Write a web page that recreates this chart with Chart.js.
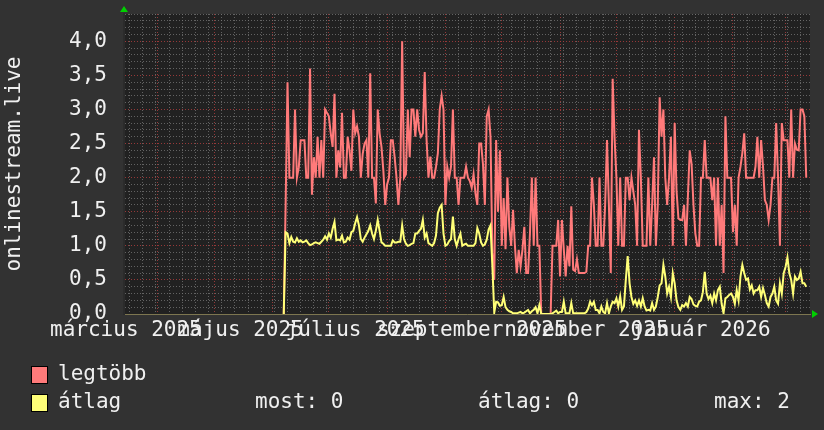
<!DOCTYPE html>
<html>
<head>
<meta charset="utf-8">
<script src="https://cdn.jsdelivr.net/npm/chart.js@4"></script>
<style>
  html, body { margin: 0; padding: 0; background: #323232; }
  canvas { display: block; }
</style>
</head>
<body>
<canvas id="chart" width="824" height="430"></canvas>
<script>
// napok 2025. március 14-től számolva
var firstDay = 85;

// legtöbb (napi maximum), 85. naptól
var legtobb = [
  0, 1.6, 3.4, 2.0, 2.0, 2.0, 3.0, 2.0, 2.15, 2.55,
  2.55, 2.55, 2.0, 2.0, 3.6, 1.75, 2.3, 2.0, 2.6, 2.0,
  2.55, 2.0, 3.0, 2.95, 2.9, 2.65, 2.45, 3.23, 2.0, 2.4,
  2.15, 2.95, 2.0, 2.0, 2.6, 2.4, 2.1, 3.0, 2.65, 2.75,
  2.6, 2.0, 2.35, 2.5, 2.55, 2.0, 3.53, 2.0, 2.0, 1.62,
  3.0, 2.65, 2.45, 2.1, 1.6, 1.9, 2.0, 2.55, 2.55, 2.3,
  2.0, 1.6, 2.0, 4.0, 2.0, 2.05, 3.0, 2.3, 3.0, 3.0,
  2.6, 3.0, 2.7, 2.6, 2.65, 3.55, 2.55, 2.0, 2.31, 2.0,
  2.0, 2.16, 2.36, 3.0, 3.2, 3.0, 1.6, 2.16, 2.0, 2.16,
  3.0, 2.0, 2.0, 1.6, 2.0, 2.0, 2.0, 2.16, 2.0, 1.95,
  1.85, 2.05, 1.77, 1.6, 2.5, 2.5, 2.2, 1.6, 2.9, 3.0,
  2.6, 0.9, 0.5, 2.55, 1.5, 2.4, 1.0, 1.7, 0.95, 2.0,
  1.28, 1.0, 1.53, 1.0, 0.6, 0.94, 0.7, 0.94, 1.28, 0.6,
  0.6, 1.18, 2.0, 1.0, 2.0, 1.0, 1.0, 0, 0, 0,
  0, 0, 0, 1.0, 1.0, 1.0, 1.38, 0.55, 1.38, 0.95,
  0.55, 1.0, 0.7, 1.58, 0.65, 0.63, 0.8, 0.6, 0.6, 0.6,
  0.6, 0.62, 1.0, 1.0, 2.0, 1.6, 1.0, 1.0, 2.0, 1.0,
  1.0, 1.6, 2.55, 1.6, 0.6, 3.45, 2.6, 2.0, 1.0, 2.0,
  1.0, 1.0, 2.0, 2.0, 1.67, 2.0, 1.8, 1.6, 1.0, 2.7,
  2.0, 1.0, 1.0, 1.0, 2.0, 1.0, 1.6, 2.3, 1.0, 1.6,
  3.18, 2.6, 3.0, 2.0, 1.6, 2.0, 2.6, 1.0, 2.8, 1.8,
  1.4, 1.38, 1.38, 1.6, 1.0, 1.7, 2.4, 2.2, 1.6, 1.18,
  1.0, 1.0, 2.0, 2.0, 2.55, 2.0, 2.0, 2.0, 1.67, 2.0,
  1.0, 2.0, 1.0, 1.6, 0.6, 2.9, 2.0, 2.0, 2.0, 1.2,
  1.6, 1.0, 2.0, 2.16, 2.36, 2.65, 2.0, 2.0, 2.0, 2.0,
  2.0, 2.16, 2.6, 2.0, 2.55, 2.16, 1.67, 1.6, 1.38, 1.6,
  2.0, 2.0, 2.8, 2.0, 1.0, 2.8, 2.55, 2.55, 2.55, 2.0,
  3.0, 2.0, 2.5, 2.41, 2.4, 3.0, 3.0, 2.9, 2.0
];

// átlag, 85. naptól
var atlag = [
  0, 1.2, 1.18, 1.04, 1.13, 1.06, 1.05, 1.11, 1.06, 1.08,
  1.05, 1.06, 1.08, 1.04, 1.01, 1.02, 1.04, 1.05, 1.04, 1.03,
  1.06, 1.09, 1.14, 1.09, 1.18, 1.12, 1.25, 1.35, 1.08, 1.09,
  1.08, 1.15, 1.05, 1.06, 1.12, 1.09, 1.2, 1.22, 1.33, 1.42,
  1.3, 1.1, 1.06, 1.12, 1.17, 1.22, 1.3, 1.18, 1.1, 1.22,
  1.38, 1.22, 1.05, 1.03, 1.0, 1.0, 1.0, 1.0, 1.08, 1.05,
  1.05, 1.06, 1.06, 1.3, 1.1, 1.03, 1.0, 1.01, 1.03, 1.04,
  1.18, 1.18, 1.22, 1.25, 1.38, 1.12, 1.18, 1.04, 1.02, 1.0,
  1.04, 1.15, 1.48, 1.56, 1.6, 1.18, 1.0, 1.02, 1.07, 1.1,
  1.43, 1.1, 1.0, 1.1, 1.18, 1.0, 1.02, 1.03, 1.0, 1.0,
  1.0, 1.0, 1.04, 1.26, 1.18, 1.05, 1.0, 1.02, 1.09, 1.24,
  1.3, 0.7, 0.02, 0.18, 0.17, 0.12, 0.13, 0.25, 0.1, 0.06,
  0.04, 0.03, 0.01, 0.01, 0.01, 0.02, 0.03, 0.01, 0.02, 0.04,
  0.06, 0.01, 0.04, 0.06, 0.1, 0.01, 0.13, 0, 0, 0,
  0, 0, 0, 0.01, 0.03, 0.05, 0.01, 0.03, 0.03, 0.18,
  0.01, 0.01, 0.01, 0.16, 0.01, 0.01, 0.01, 0.01, 0.01, 0.01,
  0.01, 0.03, 0.08, 0.18, 0.13, 0.18, 0.06, 0.06, 0.01, 0.11,
  0.03, 0.01, 0.16, 0.01, 0.11, 0.18, 0.16, 0.23, 0.11, 0.26,
  0.06, 0.11, 0.5, 0.85, 0.45, 0.25, 0.15, 0.2, 0.12, 0.2,
  0.11, 0.23, 0.11, 0.05, 0.06, 0.05, 0.16, 0.06, 0.11, 0.25,
  0.42, 0.45, 0.72, 0.55, 0.3, 0.4, 0.25, 0.6, 0.45, 0.2,
  0.1, 0.06, 0.13, 0.11, 0.16, 0.11, 0.25, 0.22, 0.14, 0.12,
  0.11, 0.18, 0.2, 0.32, 0.62, 0.3, 0.22, 0.27, 0.16, 0.3,
  0.2, 0.35, 0.4, 0.15, 0.01, 0.23, 0.25, 0.28, 0.3, 0.25,
  0.15, 0.35, 0.2, 0.55, 0.72, 0.6, 0.5, 0.52, 0.36, 0.42,
  0.3, 0.35, 0.35, 0.4, 0.25, 0.38, 0.28, 0.16, 0.11, 0.25,
  0.3, 0.4, 0.2, 0.15, 0.45, 0.3, 0.6, 0.69, 0.83, 0.6,
  0.5, 0.3, 0.55, 0.5, 0.52, 0.62, 0.45, 0.45, 0.4
];

var monthStarts = [18, 48, 79, 109, 140, 171, 201, 232, 262, 293, 324, 352];
var labelDays = [1, 62, 123, 185, 246, 307];
var monthLabels = ['március 2025', 'május 2025', 'július 2025', 'szeptember 2025', 'november 2025', 'január 2026'];
var firstMonday = 3;
var yLabels = ['0,0', '0,5', '1,0', '1,5', '2,0', '2,5', '3,0', '3,5', '4,0'];
var legendNames = ['legtöbb', 'átlag'];
var stats = ['most: 0', 'átlag: 0', 'max: 2'];

var FONT = '"DejaVu Sans Mono", "Liberation Mono", monospace';
var RED = '#ff7a7a';
var YELLOW = '#ffff78';
var MINOR = 'rgba(120,120,120,0.75)';
var MAJOR = 'rgba(170,60,60,0.85)';

function toPoints(arr) {
  return arr.map(function (v, i) { return { x: firstDay + i, y: v }; });
}

// x tengely: heti és havi rács + feliratok
var xKind = {};
var xTicks = [];
for (var d = firstMonday; d <= 365; d += 7) { xTicks.push(d); xKind[d] = 'week'; }
monthStarts.forEach(function (d) { if (xKind[d] !== 'week') xTicks.push(d); xKind[d] = 'month'; });
var xLabelAt = {};
labelDays.forEach(function (d, i) {
  xLabelAt[d] = monthLabels[i];
  if (xKind[d] === undefined) { xTicks.push(d); xKind[d] = 'label'; }
});
xTicks.sort(function (a, b) { return a - b; });

var yTicks = [];
for (var i = 0; i <= 44; i++) yTicks.push(i / 10);

function noPad(scale) {
  scale.paddingTop = 0;
  scale.paddingBottom = 0;
  scale.paddingLeft = 0;
  scale.paddingRight = 0;
}

var rrdLook = {
  id: 'rrdLook',
  beforeDraw: function (chart) {
    var c = chart.ctx, a = chart.chartArea;
    c.save();
    c.fillStyle = '#323232';
    c.fillRect(0, 0, chart.width, chart.height);
    c.fillStyle = '#212121';
    c.fillRect(a.left, a.top, a.right - a.left, a.bottom - a.top);
    c.restore();
  },
  afterDraw: function (chart) {
    var c = chart.ctx, a = chart.chartArea;
    c.save();
    // nyilak
    c.fillStyle = '#00d000';
    c.beginPath();
    c.moveTo(a.left - 4, a.top - 2); c.lineTo(a.left + 4, a.top - 2); c.lineTo(a.left, a.top - 8);
    c.fill();
    c.beginPath();
    c.moveTo(a.right + 2, a.bottom - 4); c.lineTo(a.right + 2, a.bottom + 4); c.lineTo(a.right + 8, a.bottom);
    c.fill();
    // jelmagyarázat
    var cols = [RED, YELLOW];
    c.font = '21px ' + FONT;
    c.textBaseline = 'middle';
    legendNames.forEach(function (name, k) {
      var y = 375 + k * 28;
      c.fillStyle = cols[k];
      c.fillRect(32, y - 8, 15, 16);
      c.strokeStyle = '#000';
      c.lineWidth = 1;
      c.strokeRect(31.5, y - 8.5, 16, 17);
      c.fillStyle = '#f0f0f0';
      c.fillText(name, 58, y);
    });
    var sx = [255, 478, 714];
    stats.forEach(function (s, k) { c.fillText(s, sx[k], 403); });
    c.restore();
  }
};

new Chart(document.getElementById('chart'), {
  type: 'line',
  data: {
    datasets: [
      { label: legendNames[1], data: toPoints(atlag), borderColor: YELLOW, borderWidth: 2, pointRadius: 0, tension: 0, order: 0 },
      { label: legendNames[0], data: toPoints(legtobb), borderColor: RED, borderWidth: 2, pointRadius: 0, tension: 0, order: 1 }
    ]
  },
  options: {
    responsive: false,
    animation: false,
    devicePixelRatio: 1,
    layout: { padding: { left: 0, right: 14, top: 14, bottom: 0 } },
    plugins: { legend: { display: false }, tooltip: { enabled: false } },
    scales: {
      x: {
        type: 'linear',
        min: 0,
        max: 365,
        afterBuildTicks: function (scale) {
          scale.ticks = xTicks.map(function (v) { return { value: v }; });
        },
        afterFit: function (scale) { scale.height = 116; noPad(scale); },
        ticks: {
          autoSkip: false,
          maxRotation: 0,
          minRotation: 0,
          padding: 4,
          color: '#f0f0f0',
          font: { family: FONT, size: 21 },
          callback: function (v) { return xLabelAt[v] || ''; }
        },
        grid: {
          drawTicks: false,
          color: function (ctx) {
            var k = ctx.tick ? xKind[ctx.tick.value] : null;
            if (k === 'month') return MAJOR;
            if (k === 'week') return MINOR;
            return 'rgba(0,0,0,0)';
          }
        },
        border: { display: true, color: '#7d7650', width: 1, dash: [1, 2] }
      },
      y: {
        min: 0,
        max: 4.4,
        afterBuildTicks: function (scale) {
          scale.ticks = yTicks.map(function (v) { return { value: v }; });
        },
        afterFit: function (scale) { scale.width = 124; noPad(scale); },
        ticks: {
          autoSkip: false,
          padding: 17,
          color: '#f0f0f0',
          font: { family: FONT, size: 21 },
          callback: function (v) {
            var n = Math.round(v * 10);
            return n % 5 === 0 ? yLabels[n / 5] : '';
          }
        },
        grid: {
          drawTicks: false,
          color: function (ctx) {
            if (!ctx.tick) return MINOR;
            var n = Math.round(ctx.tick.value * 10);
            if (n === 0) return 'rgba(0,0,0,0)';
            return n % 5 === 0 ? MAJOR : MINOR;
          }
        },
        border: { display: true, color: '#2b2b2b', width: 2, dash: [1, 2] },
        title: {
          display: true,
          text: 'onlinestream.live',
          color: '#f0f0f0',
          font: { family: FONT, size: 21 },
          padding: { top: 2, bottom: 0 }
        }
      }
    }
  },
  plugins: [rrdLook]
});
</script>
</body>
</html>
